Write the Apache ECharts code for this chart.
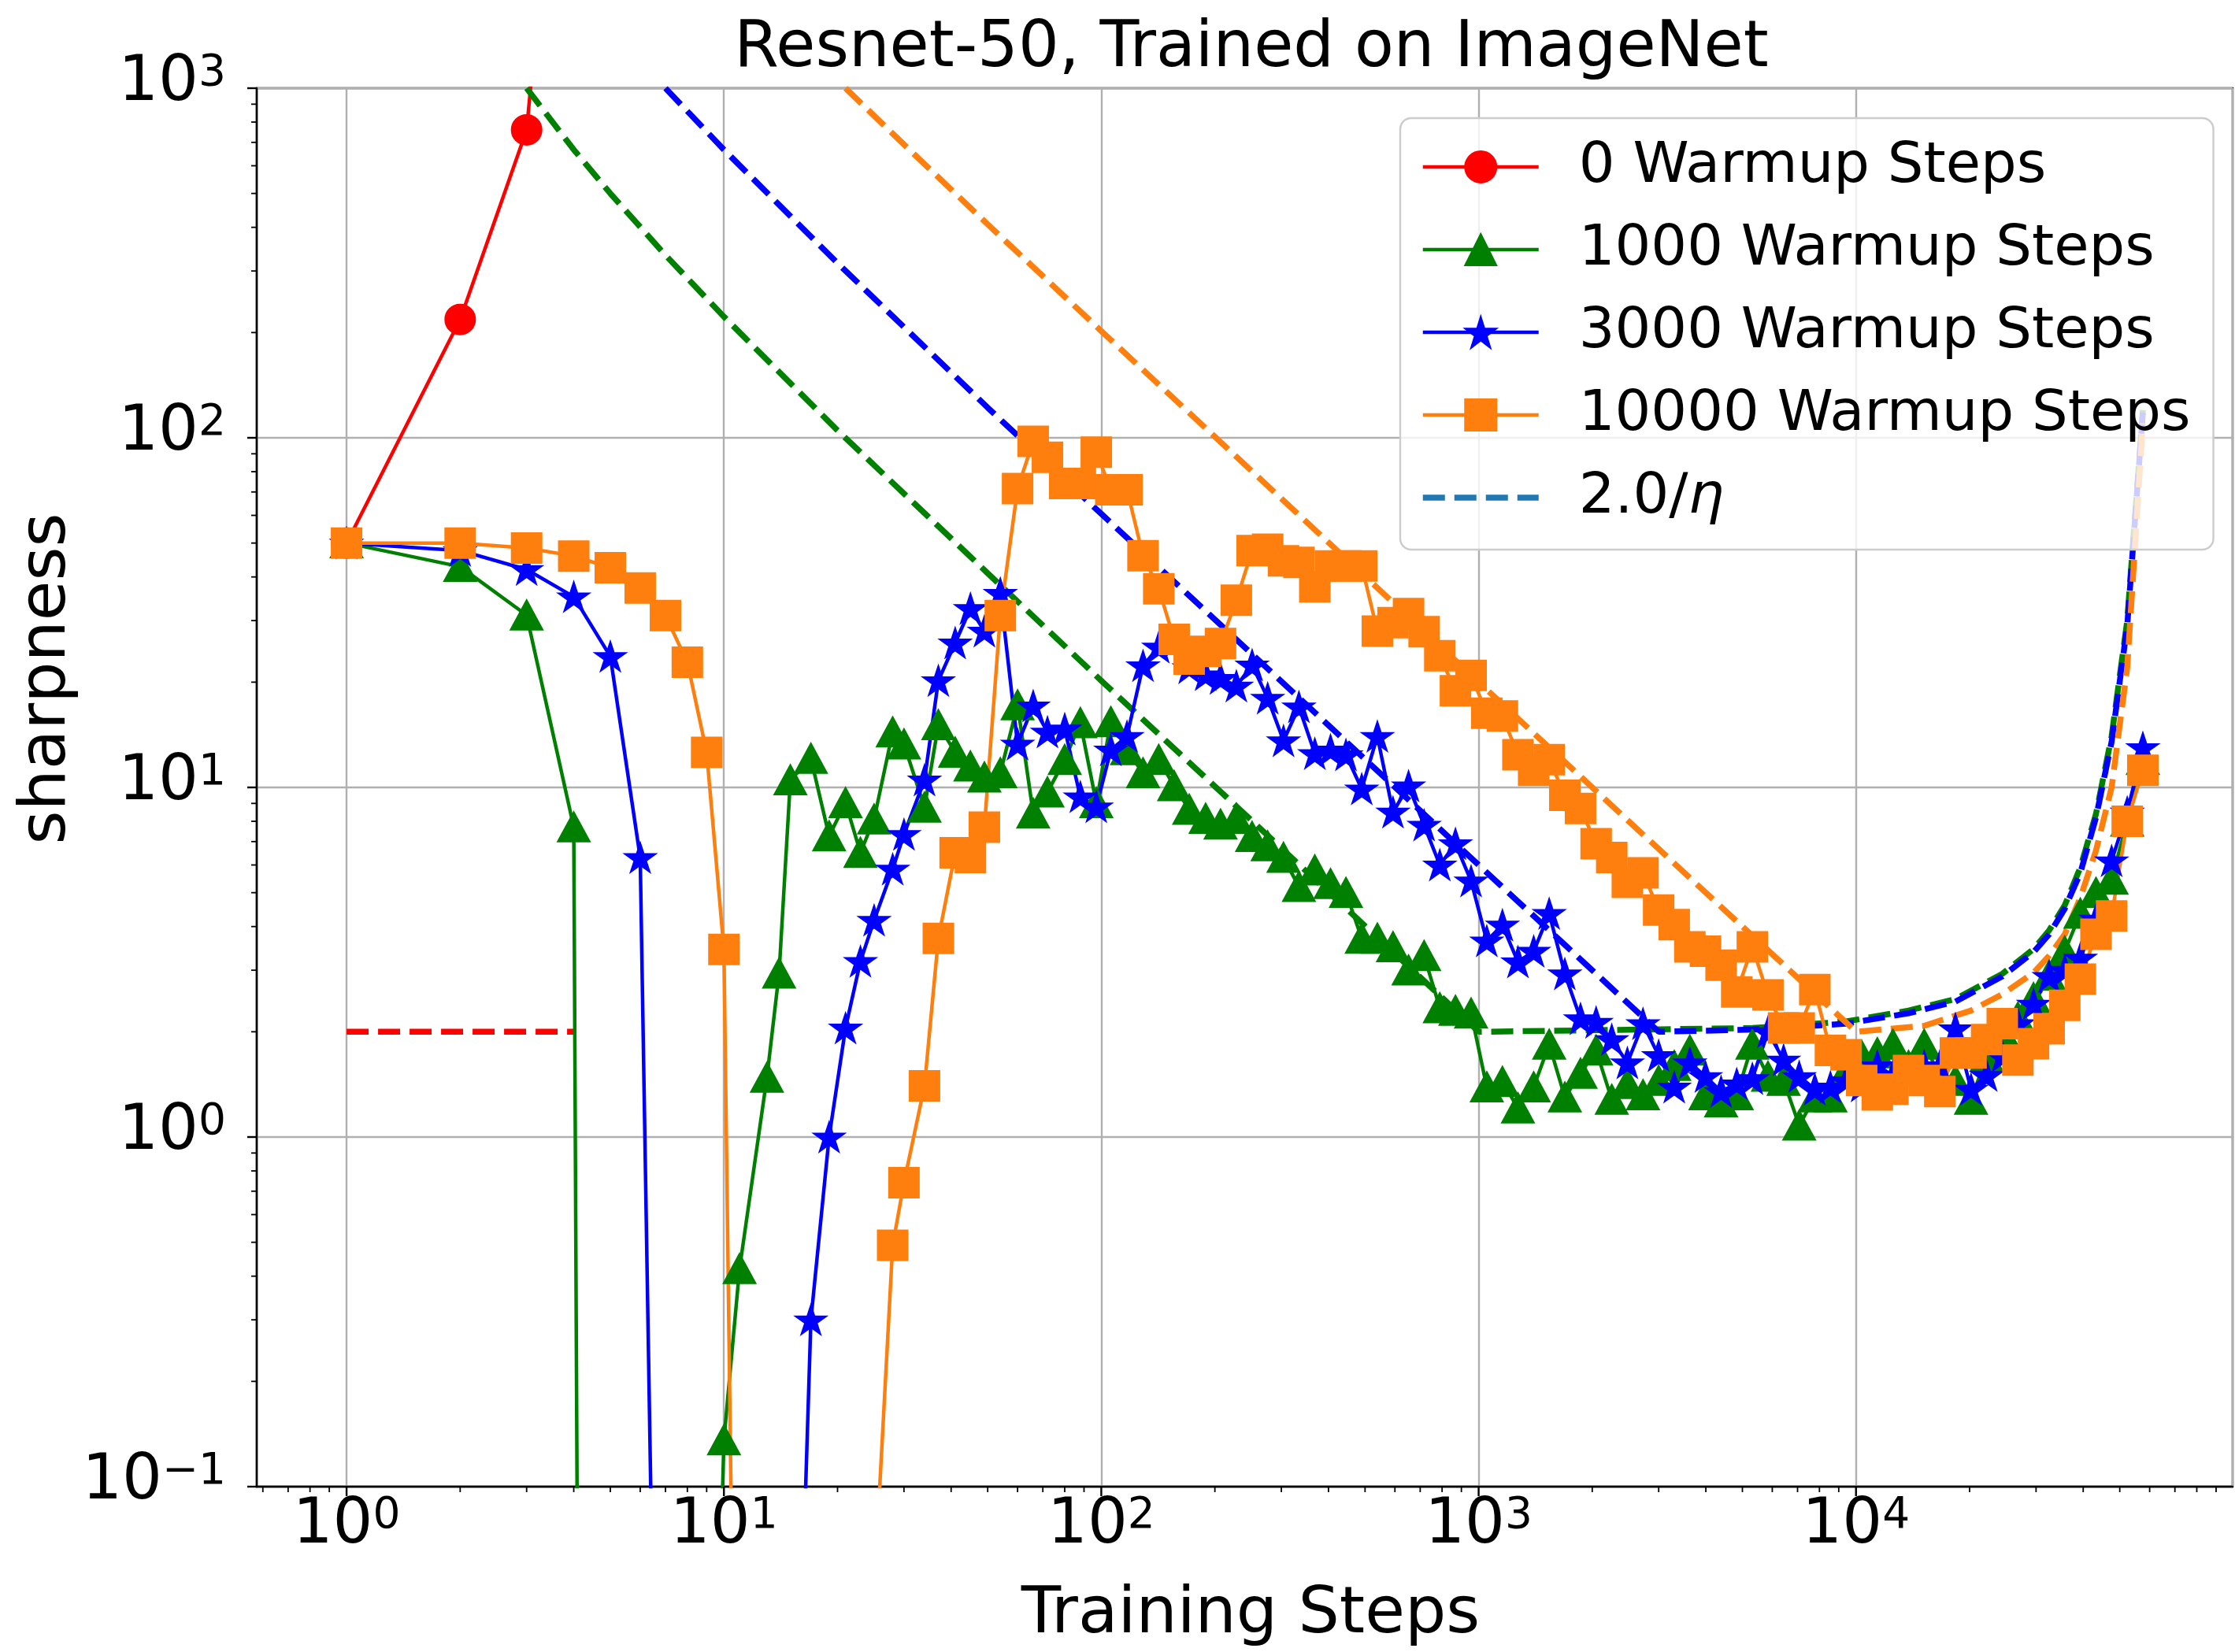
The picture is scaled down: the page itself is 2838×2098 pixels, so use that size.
<!DOCTYPE html>
<html>
<head>
<meta charset="utf-8">
<script src="https://cdn.jsdelivr.net/npm/echarts@6/dist/echarts.min.js"></script>
<style>
  html, body { margin: 0; padding: 0; background: #ffffff; }
  #chart { width: 2838px; height: 2098px; }
</style>
</head>
<body>
<div id="chart"></div>
<script>
// Training steps at which sharpness was measured
const steps = [1,2,3,4,5,6,7,8,9,
  10,11,13,14,15,17,19,21,23,25,
  28,30,34,37,41,45,49,54,60,66,
  72,80,88,97,106,117,129,142,156,171,
  189,207,228,251,276,304,334,368,405,445,
  490,539,593,652,717,789,868,955,1051,1156,
  1271,1399,1538,1692,1862,2048,2253,2478,2726,2999,
  3298,3628,3991,4390,4830,5313,5844,6428,7071,7778,
  8556,9412,10353,11388,12527,13780,15158,16674,18342,20176,
  22193,24413,26854,29539,32493,35743,39317,43249,47574,52331,
  57565];

// 0 warmup steps: diverges after a few steps
const stepsNoWarmup = [1, 2, 3, 4];
const sharpNoWarmup = [50, 218, 760, 20000];

// Sharpness per run (values far below the axis stand for non-positive estimates)
const sharp1000 = [50,42.8,31.1,7.7,1e-20,1e-20,1e-20,1e-20,0.002,
  0.136,0.42,1.48,2.94,10.5,12.1,7.26,9.04,6.51,8.11,
  14.4,13.3,8.77,15.1,12.6,11.5,10.7,11.0,17.2,8.43,
  9.69,12.0,15.3,9.04,15.4,12.8,11.0,12.0,10.1,8.65,
  8.15,7.84,8.15,7.23,6.8,6.3,5.2,5.8,5.3,5.0,
  3.7,3.7,3.5,3.0,3.3,2.34,2.3,2.26,1.39,1.44,
  1.21,1.39,1.84,1.30,1.52,1.77,1.28,1.42,1.32,1.45,
  1.60,1.77,1.32,1.26,1.32,1.84,1.49,1.45,1.08,1.3,
  1.30,1.55,1.71,1.74,1.84,1.6,1.84,1.5,1.45,1.28,
  1.7,2.0,2.2,2.5,2.9,3.4,4.36,5.0,5.46,8,
  12];

const sharp3000 = [50,47.6,42,35.1,23.7,6.3,3e-4,1e-20,1e-20,
  1e-20,1e-20,1e-20,1e-20,0.004,0.30,1.0,2.05,3.18,4.17,
  5.84,7.34,10.5,20.2,25.9,32.5,28.0,35.9,13.3,17.1,
  14.4,14.7,9.4,8.8,12.8,14.0,22.3,25.2,26,22,
  21,20.5,19.5,22.4,18.0,13.6,17.0,12.5,12.8,12.4,
  9.9,14.0,8.5,10.1,7.8,6.0,6.9,5.4,3.64,4.04,
  3.17,3.40,4.36,2.93,2.18,2.13,1.90,1.63,2.11,1.71,
  1.39,1.63,1.49,1.35,1.42,1.47,2.0,1.66,1.49,1.37,
  1.39,1.45,1.4,1.6,1.5,1.55,1.6,1.6,2.04,1.37,
  1.5,1.7,2.11,2.4,2.88,3.0,3.25,4.2,6.17,8.5,
  13];

const sharp10000 = [50,50,48.4,45.9,42.5,37.2,31,22.8,12.6,
  3.44,0.0013,1e-20,1e-20,1e-20,1e-20,1e-20,1e-20,1e-20,0.05,
  0.49,0.74,1.4,3.7,6.5,6.3,7.7,31,71.6,97.7,
  88,74,74,91,71,71,46,37,26.5,23.3,
  24.5,25.8,34.3,47.6,48,44.5,44,37.5,43,43,
  43,28,29.6,31.4,27.9,23.8,18.9,20.9,16.3,16,
  12.4,11.2,12,9.5,8.7,6.9,6.3,5.35,5.7,4.46,
  4.05,3.5,3.4,3.1,2.6,3.5,2.55,2.05,2.05,2.64,
  1.77,1.72,1.45,1.32,1.37,1.55,1.45,1.35,1.74,1.74,
  1.9,2.11,1.66,1.85,2.04,2.38,2.83,3.8,4.29,8.0,
  11.2];

// 2/eta stability limit for each learning-rate schedule
const etaSteps0 = [1, 4];
const etaLimit0 = [2, 2];
const etaSteps1000 = [3,4,5,7,10,20,50,100,1001,5313,9412,13780,18342,24413,29539,32493,35743,39317,43249,47574,52331,57565];
const etaLimit1000 = [1000,667,500,333,222,105,41,20.2,2.0,2.05,2.14,2.3,2.48,2.93,3.45,3.9,4.6,5.9,8.4,14,30,120];
const etaSteps3000 = [7,10,20,50,100,1000,3001,5313,9412,13780,18342,24413,29539,32493,35743,39317,43249,47574,52331,57565];
const etaLimit3000 = [1000,667,316,122,60.6,6.0,2.0,2.03,2.11,2.26,2.44,2.88,3.38,3.8,4.5,5.7,8.2,13.5,29,118];
const etaSteps10000 = [21,30,50,100,1000,10001,15158,20176,24413,29539,32493,35743,39317,43249,47574,52331,57565];
const etaLimit10000 = [1000,690,408,202,20,2.0,2.08,2.3,2.56,2.95,3.3,3.8,4.84,6.6,10,22,110];

// Axis tick positions
const xMajorTicks = [1, 10, 100, 1000, 10000];
const xMinorTicks = [0.6,0.7,0.8,0.9, 2,3,4,5,6,7,8,9, 20,30,40,50,60,70,80,90,
  200,300,400,500,600,700,800,900, 2000,3000,4000,5000,6000,7000,8000,9000,
  20000,30000,40000,50000,60000,70000,80000,90000];
const yMajorTicks = [0.1, 1, 10, 100, 1000];
const yMinorTicks = [0.2,0.3,0.4,0.5,0.6,0.7,0.8,0.9, 2,3,4,5,6,7,8,9,
  20,30,40,50,60,70,80,90, 200,300,400,500,600,700,800,900];

const X_MIN = 0.578, X_MAX = 99560, Y_MIN = 0.1, Y_MAX = 1000;
const FONT = 'DejaVu Sans';
const STAR = 'path://M0,-100L22.45,-30.9L95.11,-30.9L36.33,11.8L58.78,80.9L0,38.2L-58.78,80.9L-36.33,11.8L-95.11,-30.9L-22.45,-30.9Z';
const DASH = [28, 12];
const ETA_NAME = '2.0/\u03b7';

const pairs = (xs, ys) => xs.map((x, i) => [x, ys[i]]);

function powerLabel(v) {
  const e = Math.log10(v);
  const r = Math.round(e);
  if (Math.abs(e - r) > 1e-6) return '';
  return '{b|10}{s|' + (r < 0 ? '\u2212' + (-r) : r) + '}';
}
const labelRich = {
  b: { fontSize: 80, fontFamily: FONT, color: '#000', lineHeight: 80, padding: [16, 0, 0, 0], verticalAlign: 'bottom' },
  s: { fontSize: 55, fontFamily: FONT, color: '#000', lineHeight: 73, verticalAlign: 'top' }
};

function dataSeries(name, xs, ys, color, symbol, size) {
  return {
    type: 'line', name: name, data: pairs(xs, ys),
    symbol: symbol, symbolSize: size, showAllSymbol: true,
    clip: true, z: 3,
    lineStyle: { color: color, width: 4.5 },
    itemStyle: { color: color, borderColor: color, borderWidth: 3 },
    emphasis: { disabled: true }
  };
}
function limitSeries(xs, ys, color) {
  return {
    type: 'line', data: pairs(xs, ys), symbol: 'none', clip: true, z: 3,
    lineStyle: { color: color, width: 7.5, type: DASH },
    emphasis: { disabled: true }
  };
}
function tickSeries(values, len, width, horizontalAxis) {
  const data = values.map(v => horizontalAxis ? [v, Y_MIN, len, width] : [X_MIN, v, len, width]);
  return {
    type: 'custom', silent: true, clip: false, z: 6, data: data,
    encode: { x: 0, y: 1 },
    renderItem: function (params, api) {
      const p = api.coord([api.value(0), api.value(1)]);
      const l = api.value(2);
      const shape = horizontalAxis
        ? { x1: p[0], y1: p[1], x2: p[0], y2: p[1] + l }
        : { x1: p[0], y1: p[1], x2: p[0] - l, y2: p[1] };
      return { type: 'line', shape: shape, style: { stroke: '#000', lineWidth: api.value(3) } };
    }
  };
}
function legendEntry(name, width, dash) {
  const ls = { width: width };
  if (dash) { ls.type = dash; ls.color = '#1f77b4'; }
  return { name: name, lineStyle: ls };
}

const chart = echarts.init(document.getElementById('chart'), null, { renderer: 'canvas' });
chart.setOption({
  animation: false,
  backgroundColor: '#ffffff',
  title: {
    text: 'Resnet-50, Trained on ImageNet',
    left: 1584, top: 17, textAlign: 'center',
    textStyle: { fontSize: 81.5, fontWeight: 'normal', fontFamily: FONT, color: '#000' }
  },
  // Axis titles
  graphic: [
    {
      type: 'text', x: 1588, y: 2052, silent: true,
      style: { text: 'Training Steps', fontSize: 82.5, fontFamily: FONT, fill: '#000', align: 'center', verticalAlign: 'middle' }
    },
    {
      type: 'text', x: 61, y: 862, rotation: Math.PI / 2, silent: true,
      style: { text: 'sharpness', fontSize: 82.5, fontFamily: FONT, fill: '#000', align: 'center', verticalAlign: 'middle' }
    }
  ],
  grid: {
    left: 326, top: 112, width: 2517, height: 1776,
    show: true, borderColor: '#000', borderWidth: 2.4, backgroundColor: 'transparent'
  },
  legend: {
    left: 1778, top: 150, orient: 'vertical',
    itemWidth: 147, itemHeight: 50, itemGap: 33,
    padding: [26, 29, 30, 25],
    backgroundColor: 'rgba(255,255,255,0.8)',
    borderColor: '#cccccc', borderWidth: 2.4, borderRadius: 14,
    selectedMode: false,
    data: [
      legendEntry('0 Warmup Steps', 4.5),
      legendEntry('1000 Warmup Steps', 4.5),
      legendEntry('3000 Warmup Steps', 4.5),
      legendEntry('10000 Warmup Steps', 4.5),
      legendEntry(ETA_NAME, 7.5, DASH)
    ],
    formatter: function (name) { return name === ETA_NAME ? '2.0/{i|\u03b7}' : name; },
    textStyle: {
      fontSize: 72, fontFamily: FONT, color: '#000', lineHeight: 72, padding: [0, 0, 0, 46],
      rich: { i: { fontSize: 72, fontFamily: FONT, fontStyle: 'italic', color: '#000', lineHeight: 72 } }
    }
  },
  xAxis: {
    type: 'log', logBase: 10, min: X_MIN, max: X_MAX,
    axisLine: { show: true, onZero: false, lineStyle: { color: '#000', width: 2.4 } },
    axisTick: { show: false },
    minorTick: { show: false },
    splitLine: { show: true, lineStyle: { color: '#b0b0b0', width: 2.4 } },
    axisLabel: { interval: 0, margin: 10, formatter: powerLabel, rich: labelRich }
  },
  yAxis: {
    type: 'log', logBase: 10, min: Y_MIN, max: Y_MAX,
    axisLine: { show: true, onZero: false, lineStyle: { color: '#000', width: 2.4 } },
    axisTick: { show: false },
    minorTick: { show: false },
    splitLine: { show: true, lineStyle: { color: '#b0b0b0', width: 2.4 } },
    axisLabel: { interval: 0, margin: 39, formatter: powerLabel, rich: labelRich, padding: [0, 0, 12, 0] }
  },
  series: [
    dataSeries('0 Warmup Steps', stepsNoWarmup, sharpNoWarmup, '#ff0000', 'circle', 37),
    limitSeries(etaSteps0, etaLimit0, '#ff0000'),
    dataSeries('1000 Warmup Steps', steps, sharp1000, '#008000', 'triangle', [39, 36]),
    limitSeries(etaSteps1000, etaLimit1000, '#008000'),
    dataSeries('3000 Warmup Steps', steps, sharp3000, '#0000ff', STAR, [36, 34]),
    limitSeries(etaSteps3000, etaLimit3000, '#0000ff'),
    dataSeries('10000 Warmup Steps', steps, sharp10000, '#ff7f0e', 'rect', 37),
    limitSeries(etaSteps10000, etaLimit10000, '#ff7f0e'),
    {
      type: 'line', name: ETA_NAME, data: [], symbol: 'circle',
      itemStyle: { color: 'rgba(0,0,0,0)' },
      lineStyle: { color: '#1f77b4', width: 7.5, type: DASH }
    },
    tickSeries(xMajorTicks, 12, 2.4, true),
    tickSeries(xMinorTicks, 7, 1.8, true),
    tickSeries(yMajorTicks, 12, 2.4, false),
    tickSeries(yMinorTicks, 7, 1.8, false)
  ]
});
</script>
</body>
</html>
